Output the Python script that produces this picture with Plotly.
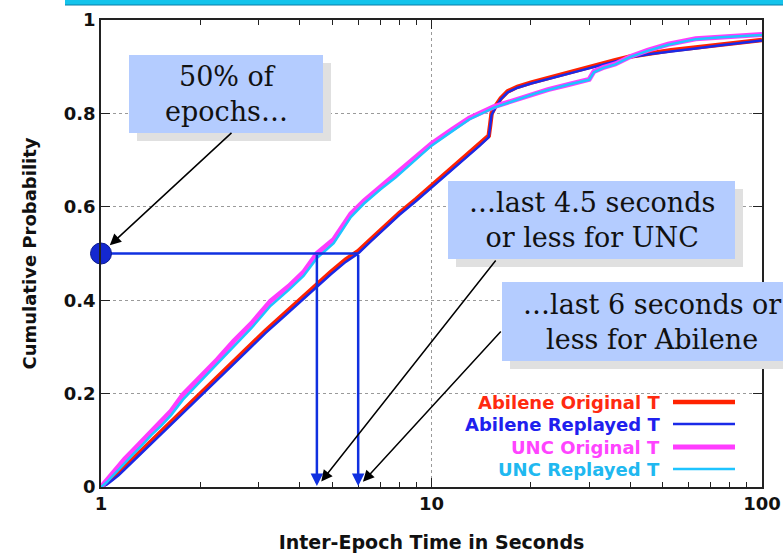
import math
import plotly.graph_objects as go

# Inter-epoch time CDFs (seconds, cumulative probability)
abilene_orig_x = [1.00, 1.04, 1.08, 1.13, 1.18, 1.25, 1.33, 1.42, 1.52, 1.63, 1.75, 1.90, 2.05, 2.25,
                  2.50, 2.80, 3.15, 3.55, 3.95, 4.40, 4.95, 5.50, 6.00, 6.55, 7.20, 8.00, 9.00, 10.0,
                  11.0, 12.0, 13.0, 14.0, 14.9, 15.05, 15.2, 15.6, 16.2, 17.0, 18.2, 20.0, 22.5, 25.0,
                  28.0, 32.0, 36.0, 40.0, 46.0, 53.0, 63.0, 75.0, 88.0, 100.0]
abilene_orig_y = [0.000, 0.008, 0.018, 0.030, 0.043, 0.060, 0.078, 0.098, 0.118, 0.138, 0.160, 0.185,
                  0.207, 0.235, 0.266, 0.300, 0.335, 0.368, 0.398, 0.428, 0.460, 0.487, 0.505, 0.530,
                  0.557, 0.587, 0.617, 0.645, 0.670, 0.693, 0.714, 0.734, 0.752, 0.775, 0.800, 0.815,
                  0.832, 0.847, 0.857, 0.866, 0.876, 0.884, 0.893, 0.904, 0.914, 0.922, 0.929, 0.935,
                  0.941, 0.947, 0.952, 0.957]

abilene_replay_x = abilene_orig_x
abilene_replay_y = [0.000, 0.005, 0.014, 0.025, 0.038, 0.055, 0.073, 0.093, 0.113, 0.133, 0.155, 0.180,
                    0.202, 0.230, 0.261, 0.295, 0.330, 0.363, 0.393, 0.423, 0.455, 0.482, 0.500, 0.526,
                    0.553, 0.583, 0.613, 0.641, 0.666, 0.690, 0.711, 0.731, 0.749, 0.772, 0.797, 0.812,
                    0.830, 0.845, 0.855, 0.864, 0.874, 0.882, 0.891, 0.902, 0.912, 0.920, 0.927, 0.933,
                    0.939, 0.946, 0.951, 0.956]

unc_orig_x = [1.00, 1.04, 1.08, 1.13, 1.18, 1.25, 1.33, 1.42, 1.52, 1.63, 1.77, 1.90, 2.05, 2.25, 2.52,
              2.85, 3.26, 3.70, 4.10, 4.50, 5.06, 5.40, 5.70, 6.25, 7.00, 7.80, 8.80, 10.0, 11.5, 13.0,
              15.4, 18.0, 20.5, 22.5, 26.0, 30.0, 31.0, 33.0, 36.0, 40.0, 45.0, 52.0, 63.0, 75.0, 88.0,
              100.0]
unc_orig_y = [0.000, 0.015, 0.028, 0.045, 0.060, 0.078, 0.097, 0.120, 0.140, 0.163, 0.198, 0.220, 0.245,
              0.273, 0.312, 0.350, 0.398, 0.430, 0.460, 0.500, 0.530, 0.560, 0.585, 0.613, 0.642, 0.668,
              0.700, 0.735, 0.765, 0.790, 0.814, 0.830, 0.843, 0.851, 0.862, 0.873, 0.890, 0.898, 0.906,
              0.922, 0.935, 0.948, 0.960, 0.964, 0.967, 0.969]

unc_replay_x = unc_orig_x
unc_replay_y = [0.000, 0.010, 0.022, 0.037, 0.052, 0.070, 0.089, 0.111, 0.131, 0.154, 0.187, 0.210,
                0.235, 0.263, 0.302, 0.340, 0.388, 0.422, 0.452, 0.490, 0.522, 0.552, 0.578, 0.607,
                0.637, 0.663, 0.695, 0.731, 0.761, 0.787, 0.812, 0.829, 0.842, 0.850, 0.862, 0.872,
                0.888, 0.897, 0.905, 0.921, 0.934, 0.947, 0.959, 0.963, 0.966, 0.968]

series_names = ["Abilene Original T", "Abilene Replayed T", "UNC Original T", "UNC Replayed T"]
series_colors = ["#ff2200", "#1a2ae8", "#ff3cff", "#1ec4ff"]
series_widths = [4.5, 2.5, 5, 2.5]

# Median markers: half of the epochs last this long or less
median_prob = 0.5
unc_median = 4.5
abilene_median = 6.0

# Plot-area geometry in pixels (used for the overlay boxes and legend)
W, H = 783, 553
L, R, T, B = 101, 762, 20, 487


def px(x):
    return (x - L) / (R - L)


def py(y):
    return (B - y) / (B - T)


fig = go.Figure()

series = [
    (abilene_orig_x, abilene_orig_y),
    (abilene_replay_x, abilene_replay_y),
    (unc_orig_x, unc_orig_y),
    (unc_replay_x, unc_replay_y),
]
for (xs, ys), name, col, w in zip(series, series_names, series_colors, series_widths):
    fig.add_trace(go.Scatter(x=xs, y=ys, mode="lines", name=name,
                             line=dict(color=col, width=w), showlegend=False))

mark_blue = "#1030e0"
# Horizontal guide at the median and the marker on the y axis
fig.add_trace(go.Scatter(x=[1, abilene_median], y=[median_prob, median_prob], mode="lines",
                         line=dict(color=mark_blue, width=2.5), showlegend=False))
fig.add_trace(go.Scatter(x=[1], y=[median_prob], mode="markers", cliponaxis=False,
                         marker=dict(size=21, color="#1428d0", line=dict(color="#0a1a90", width=1)),
                         showlegend=False))

annotations = []
# Vertical arrows dropping from the median crossings
for xm in (unc_median, abilene_median):
    annotations.append(dict(x=math.log10(xm), y=0, xref="x", yref="y",
                            ax=math.log10(xm), ay=median_prob, axref="x", ayref="y",
                            text="", showarrow=True, arrowhead=2, arrowsize=1,
                            arrowwidth=2.5, arrowcolor=mark_blue, standoff=1))

# Callout boxes (shadow, then fill)
box_fill = "#b4ccff"
shadow = "#e0e0e0"
boxes = [
    ((129, 55, 323, 133), "50% of<br>epochs…"),
    ((448, 181, 735, 259), "…last 4.5 seconds<br>or less for UNC"),
    ((502, 282, 805, 361), "…last 6 seconds or<br>less for Abilene"),
]
shapes = []
# slide header strip
shapes.append(dict(type="rect", xref="paper", yref="paper", x0=px(65), x1=px(800),
                   y0=py(5), y1=py(-2), fillcolor="#14c4ec", line=dict(width=0), layer="above"))
shapes.append(dict(type="line", xref="paper", yref="paper", x0=px(65), x1=px(800),
                   y0=py(5), y1=py(5), line=dict(color="#0a7fa8", width=1), layer="above"))
for (x0, y0, x1, y1), txt in boxes:
    shapes.append(dict(type="rect", xref="paper", yref="paper",
                       x0=px(x0 + 8), x1=px(x1 + 8), y0=py(y1 + 8), y1=py(y0 + 8),
                       fillcolor=shadow, line=dict(width=0), layer="above"))
    shapes.append(dict(type="rect", xref="paper", yref="paper",
                       x0=px(x0), x1=px(x1), y0=py(y1), y1=py(y0),
                       fillcolor=box_fill, line=dict(width=0), layer="above"))
    cx = (x0 + x1) / 2 if x1 < W else 652
    annotations.append(dict(x=px(cx), y=py((y0 + y1) / 2), xref="paper", yref="paper",
                            text=txt, showarrow=False, xanchor="center", yanchor="middle",
                            font=dict(family="DejaVu Serif", size=27, color="#111111")))

# Pointer arrows from the callouts
annotations.append(dict(x=0, y=median_prob, xref="x", yref="y", ax=132, ay=-122,
                        text="", showarrow=True, arrowhead=2, arrowsize=1.5, arrowwidth=1.5,
                        arrowcolor="#000000", standoff=12))
annotations.append(dict(x=math.log10(unc_median), y=0, xref="x", yref="y", ax=180, ay=-228,
                        text="", showarrow=True, arrowhead=2, arrowsize=1.5, arrowwidth=1.5,
                        arrowcolor="#000000", standoff=7))
annotations.append(dict(x=math.log10(abilene_median), y=0, xref="x", yref="y", ax=144, ay=-157,
                        text="", showarrow=True, arrowhead=2, arrowsize=1.5, arrowwidth=1.5,
                        arrowcolor="#000000", standoff=7))

# Legend: right-aligned labels with line samples
legend_rows = [402, 424, 447, 469]
text_colors = ["#ff2a10", "#2020ee", "#ff44ff", "#20b8f0"]
for yrow, name, tcol, col, w in zip(legend_rows, series_names, text_colors, series_colors, series_widths):
    annotations.append(dict(x=px(662), y=py(yrow), xref="paper", yref="paper", text=name,
                            showarrow=False, xanchor="right", yanchor="middle",
                            font=dict(family="DejaVu Sans", size=18, color=tcol, weight="bold")))
    shapes.append(dict(type="line", xref="paper", yref="paper", x0=px(673), x1=px(735),
                       y0=py(yrow), y1=py(yrow), line=dict(color=col, width=w), layer="above"))

axis_common = dict(
    showline=True, linecolor="#222222", linewidth=1.5, mirror="ticks",
    ticks="inside", ticklen=9, tickcolor="#222222", tickwidth=1,
    showgrid=True, gridcolor="#9a9a9a", griddash="dot", gridwidth=1,
    zeroline=False, automargin=False,
    tickfont=dict(family="DejaVu Sans", size=18, color="#111111", weight="bold"),
)

fig.update_layout(
    width=W, height=H,
    margin=dict(l=L, r=W - R, t=T, b=H - B),
    paper_bgcolor="white", plot_bgcolor="white",
    showlegend=False,
    shapes=shapes, annotations=annotations,
    xaxis=dict(type="log", range=[0, 2], dtick=1,
               minor=dict(ticks="inside", ticklen=5, tickcolor="#222222", showgrid=False),
               title=dict(text="Inter-Epoch Time in Seconds", standoff=22,
                          font=dict(family="DejaVu Sans", size=19, color="#111111", weight="bold")),
               **axis_common),
    yaxis=dict(range=[0, 1], dtick=0.2,
               title=dict(text="Cumulative Probability", standoff=22,
                          font=dict(family="DejaVu Sans", size=18, color="#111111", weight="bold")),
               **axis_common),
)

fig.write_html("out.html")
